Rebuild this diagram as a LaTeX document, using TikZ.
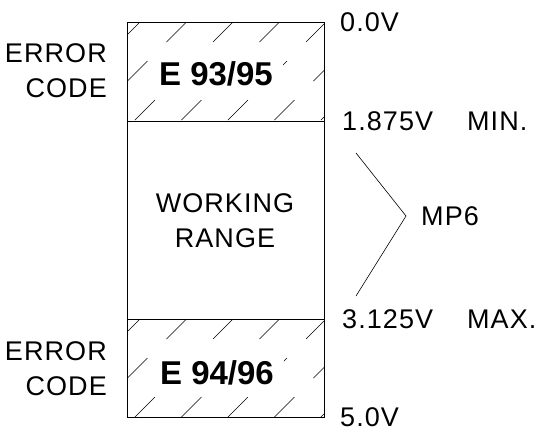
\documentclass[tikz,border=0pt]{standalone}
\usepackage{fontspec}
\setmainfont{Liberation Sans}
\newfontfamily\cadfont[LetterSpace=4]{Liberation Sans}
\usetikzlibrary{positioning,calc}

\begin{document}
\begin{tikzpicture}[x=1pt, y=-1pt,
    lbl/.style={font=\cadfont\fontsize{27}{35}\selectfont, inner sep=0pt},
    codebox/.style={font=\bfseries\fontsize{33}{33}\selectfont, fill=white, inner xsep=10pt, inner ysep=5pt},
    hatch/.style={line width=0.6pt, dash pattern=on 28.3pt off 26.9pt}]
    \useasboundingbox (0,0) rectangle (543,432);

    % corners of the bar
    \coordinate (tl) at (127,22);  \coordinate (tr) at (324,22);
    \coordinate (ml) at (127,121); \coordinate (mr) at (324,121);
    \coordinate (nl) at (127,319); \coordinate (nr) at (324,319);
    \coordinate (bl) at (127,417); \coordinate (br) at (324,417);

    % hatched error bands
    \foreach \ytop/\ybot in {22/121, 319/417} {
        \begin{scope}
            \clip (127,\ytop) rectangle (324,\ybot);
            \foreach \k in {0,...,6}
                \draw [hatch] (140+46.5*\k,\ytop) -- ++(-110,110);
        \end{scope}
    }

    \node [codebox] (e1) at (216,74) {E 93/95};
    \node [codebox] (e2) at (217,373) {E 94/96};

    \draw [line width=0.9pt] (tl) rectangle (br);
    \draw [line width=0.9pt] (ml) -- (mr) (nl) -- (nr);

    \node [lbl, align=right, anchor=east] (err1) at (107,71) {ERROR\\CODE};
    \node [lbl, align=right, anchor=east] (err2) at (107,369) {ERROR\\CODE};
    \node [lbl, align=center] (wr) at (225,221) {WORKING\\RANGE};

    \node [lbl, right=16pt of tr] (v0) {0.0V};
    \node [lbl, right=18pt of mr] (vmin) {1.875V\hspace{34pt}MIN.};
    \node [lbl, right=18pt of nr] (vmax) {3.125V\hspace{34pt}MAX.};
    \node [lbl, right=16pt of br] (v5) {5.0V};

    \node [lbl, anchor=west] (mp) at (421,216) {MP6};
    \coordinate (c1) at (356,153);
    \coordinate (c2) at (356,296);
    \draw [line width=0.6pt] (c1) -- ([xshift=-15pt]mp.west) -- (c2);
\end{tikzpicture}
\end{document}
